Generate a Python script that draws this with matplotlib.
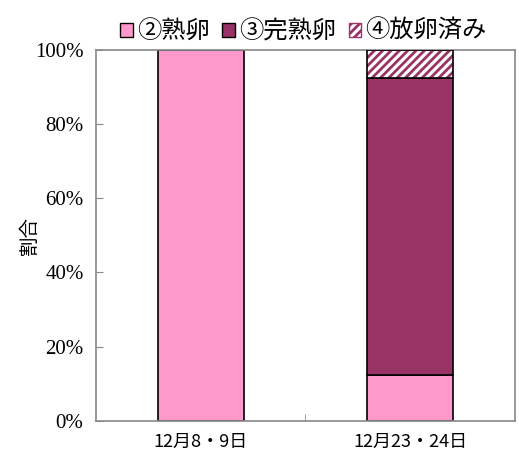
import matplotlib
matplotlib.use("Agg")
import matplotlib.pyplot as plt
import numpy as np
from matplotlib.patches import Patch

categories = ["12月8・9日", "12月23・24日"]
series_names = ["②熟卵", "③完熟卵", "④放卵済み"]
ripe = [100, 12.5]
fully_ripe = [0, 80]
spawned = [0, 7.5]
yticks = [0, 20, 40, 60, 80, 100]
ytick_labels = ["0%", "20%", "40%", "60%", "80%", "100%"]

plt.rcParams['font.family'] = ['Noto Sans CJK JP', 'DejaVu Sans']
plt.rcParams['hatch.linewidth'] = 2.0

fig = plt.figure(figsize=(5.19, 4.57), dpi=100)
ax = fig.add_axes([0.185, 0.079, 0.807, 0.812])

x = np.arange(len(categories))
w = 0.41
pink = "#FF99CC"
dark = "#993366"
b1 = ax.bar(x, ripe, w, color=pink, edgecolor="black", linewidth=1.2, zorder=2)
b2 = ax.bar(x, fully_ripe, w, bottom=ripe, color=dark, edgecolor="black", linewidth=1.2, zorder=2)
bottom3 = np.array(ripe) + np.array(fully_ripe)
b3 = ax.bar(x, spawned, w, bottom=bottom3, color="white", edgecolor=dark, hatch="////", linewidth=0, zorder=2)
b4 = ax.bar(x, spawned, w, bottom=bottom3, color="none", edgecolor="black", linewidth=1.2, zorder=3)
for bars, vals in [(b2, fully_ripe), (b3, spawned), (b4, spawned)]:
    for bar, v in zip(bars, vals):
        if v == 0:
            bar.set_visible(False)

ax.set_xlim(-0.5, 1.5)
ax.set_ylim(0, 100)
ax.set_yticks(yticks)
ax.set_yticklabels(ytick_labels, fontfamily="Liberation Serif", fontsize=15)
ax.set_xticks(x)
ax.set_xticklabels(categories, fontsize=13)
ax.tick_params(axis="x", length=0, pad=9)
ax.set_xticks([0.5], minor=True)
ax.tick_params(axis="x", which="minor", direction="in", length=5, color="#888888")
ax.tick_params(axis="y", direction="in", length=5, color="#888888", pad=9)
for s in ax.spines.values():
    s.set_color("#888888")
    s.set_linewidth(1.2)
ax.set_ylabel("割合", fontsize=14)
ax.yaxis.set_label_coords(-0.135, 0.5)

handles = [
    Patch(facecolor=pink, edgecolor="black", label=series_names[0]),
    Patch(facecolor=dark, edgecolor="black", label=series_names[1]),
    Patch(facecolor="white", edgecolor=dark, hatch="////", label=series_names[2]),
]
fig.legend(handles=handles, loc="upper center", bbox_to_anchor=(0.585, 1.008), ncol=3,
           frameon=False, fontsize=17.5, handlelength=0.5, handleheight=0.5,
           handletextpad=0.2, columnspacing=0.5)

fig.savefig("out.png", dpi=100)
